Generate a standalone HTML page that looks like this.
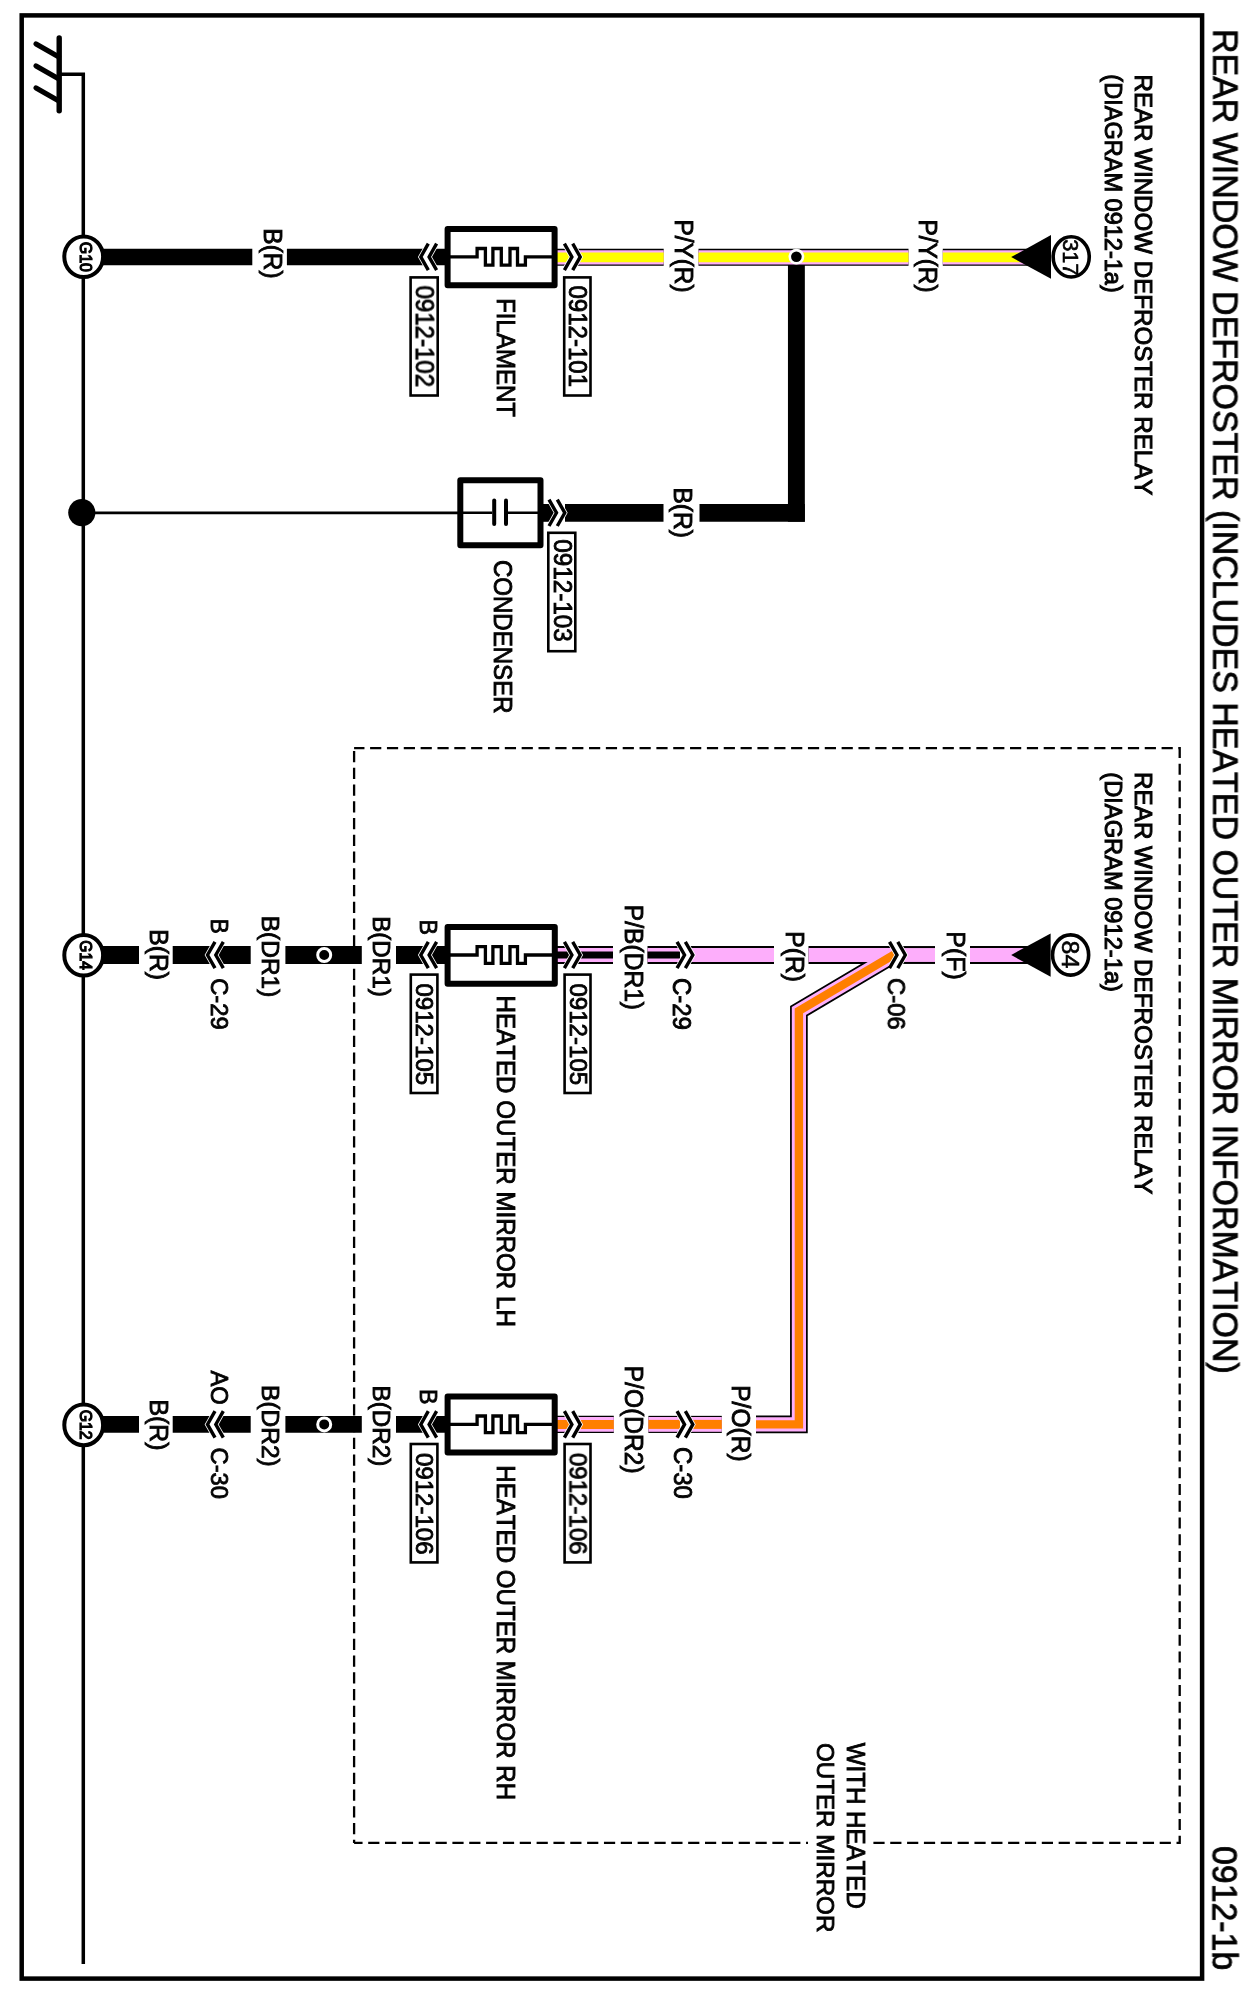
<!DOCTYPE html>
<html><head><meta charset="utf-8"><style>
html,body{margin:0;padding:0;background:#fff;}
svg{display:block;}
text{font-family:"Liberation Sans",sans-serif;font-kerning:none;fill:#000;}

</style></head><body>
<svg width="1246" height="1998" viewBox="0 0 1246 1998">
<rect x="0" y="0" width="1246" height="1998" fill="#fff"/>
<defs><clipPath id="cdiag"><rect x="0" y="0" width="895.5" height="1998"/></clipPath></defs>
<rect x="21.7" y="15.4" width="1180.4" height="1963.2" fill="none" stroke="#000" stroke-width="4.5"/>
<line x1="354.1" y1="748.1" x2="1179.7" y2="748.1" stroke="#000" stroke-width="2.3" stroke-linecap="butt" stroke-dasharray="11.2 5.64" stroke-dashoffset="0.84"/>
<line x1="354.1" y1="748.1" x2="354.1" y2="1842.9" stroke="#000" stroke-width="2.3" stroke-linecap="butt" stroke-dasharray="11.2 5.55" stroke-dashoffset="-3"/>
<line x1="354.1" y1="1842.9" x2="1179.7" y2="1842.9" stroke="#000" stroke-width="2.3" stroke-linecap="butt" stroke-dasharray="11.2 5.64" stroke-dashoffset="2.74"/>
<line x1="1179.7" y1="746.9" x2="1179.7" y2="1844.1" stroke="#000" stroke-width="2.3" stroke-linecap="butt" stroke-dasharray="11.2 5.55" stroke-dashoffset="0"/>
<line x1="59.2" y1="37.9" x2="59.2" y2="110.7" stroke="#000" stroke-width="5.4" stroke-linecap="round" />
<line x1="36.1" y1="43.9" x2="58.5" y2="56.7" stroke="#000" stroke-width="5.2" stroke-linecap="round" />
<line x1="36.1" y1="65.9" x2="58.5" y2="78.7" stroke="#000" stroke-width="5.2" stroke-linecap="round" />
<line x1="36.1" y1="87.9" x2="58.5" y2="100.7" stroke="#000" stroke-width="5.2" stroke-linecap="round" />
<polyline points="59.20,74.30 83.30,74.30 83.30,1964.00" fill="none" stroke="#000" stroke-width="3.5" stroke-linejoin="miter" stroke-linecap="butt" />
<line x1="83.3" y1="512.8" x2="460" y2="512.8" stroke="#000" stroke-width="2.8" stroke-linecap="butt" />
<circle cx="81.8" cy="512.6" r="13.6" fill="#000"/>
<polyline points="100.00,256.90 252.30,256.90" fill="none" stroke="#000" stroke-width="16.5" stroke-linejoin="miter" stroke-linecap="butt" />
<polyline points="286.90,256.90 446.00,256.90" fill="none" stroke="#000" stroke-width="16.5" stroke-linejoin="miter" stroke-linecap="butt" />
<polyline points="556.00,257.35 663.70,257.35" fill="none" stroke="#000" stroke-width="17.0" stroke-linejoin="miter" stroke-linecap="butt" />
<polyline points="698.50,257.35 908.50,257.35" fill="none" stroke="#000" stroke-width="17.0" stroke-linejoin="miter" stroke-linecap="butt" />
<polyline points="942.80,257.35 1030.00,257.35" fill="none" stroke="#000" stroke-width="17.0" stroke-linejoin="miter" stroke-linecap="butt" />
<polyline points="565.00,512.90 663.50,512.90" fill="none" stroke="#000" stroke-width="17.8" stroke-linejoin="miter" stroke-linecap="butt" />
<polyline points="699.50,512.90 804.85,512.90" fill="none" stroke="#000" stroke-width="17.8" stroke-linejoin="miter" stroke-linecap="butt" />
<polyline points="796.40,521.80 796.40,256.90" fill="none" stroke="#000" stroke-width="16.9" stroke-linejoin="miter" stroke-linecap="butt" />
<polyline points="541.00,512.90 560.00,512.90" fill="none" stroke="#000" stroke-width="17.8" stroke-linejoin="miter" stroke-linecap="butt" />
<polyline points="100.00,955.00 139.00,955.00" fill="none" stroke="#000" stroke-width="17.8" stroke-linejoin="miter" stroke-linecap="butt" />
<polyline points="172.70,955.00 250.70,955.00" fill="none" stroke="#000" stroke-width="17.8" stroke-linejoin="miter" stroke-linecap="butt" />
<polyline points="285.40,955.00 361.80,955.00" fill="none" stroke="#000" stroke-width="17.8" stroke-linejoin="miter" stroke-linecap="butt" />
<polyline points="396.00,955.00 446.00,955.00" fill="none" stroke="#000" stroke-width="17.8" stroke-linejoin="miter" stroke-linecap="butt" />
<polyline points="100.00,1424.40 139.00,1424.40" fill="none" stroke="#000" stroke-width="16.8" stroke-linejoin="miter" stroke-linecap="butt" />
<polyline points="172.70,1424.40 250.70,1424.40" fill="none" stroke="#000" stroke-width="16.8" stroke-linejoin="miter" stroke-linecap="butt" />
<polyline points="285.40,1424.40 361.80,1424.40" fill="none" stroke="#000" stroke-width="16.8" stroke-linejoin="miter" stroke-linecap="butt" />
<polyline points="396.00,1424.40 446.00,1424.40" fill="none" stroke="#000" stroke-width="16.8" stroke-linejoin="miter" stroke-linecap="butt" />
<polyline points="556.00,955.00 613.00,955.00" fill="none" stroke="#000" stroke-width="17.9" stroke-linejoin="miter" stroke-linecap="butt" />
<polyline points="647.50,955.00 680.00,955.00" fill="none" stroke="#000" stroke-width="17.9" stroke-linejoin="miter" stroke-linecap="butt" />
<polyline points="690.00,955.00 774.00,955.00" fill="none" stroke="#000" stroke-width="17.9" stroke-linejoin="miter" stroke-linecap="butt" />
<polyline points="808.50,955.00 893.00,955.00" fill="none" stroke="#000" stroke-width="17.9" stroke-linejoin="miter" stroke-linecap="butt" />
<polyline points="903.00,955.00 935.00,955.00" fill="none" stroke="#000" stroke-width="17.9" stroke-linejoin="miter" stroke-linecap="butt" />
<polyline points="970.00,955.00 1030.00,955.00" fill="none" stroke="#000" stroke-width="17.9" stroke-linejoin="miter" stroke-linecap="butt" />
<polyline points="898.00,952.25 798.90,1011.00 798.90,1424.40 756.00,1424.40" fill="none" stroke="#000" stroke-width="17.7" stroke-linejoin="miter" stroke-linecap="butt" clip-path="url(#cdiag)"/>
<polyline points="721.80,1424.40 690.00,1424.40" fill="none" stroke="#000" stroke-width="17.1" stroke-linejoin="miter" stroke-linecap="butt" />
<polyline points="556.00,1424.40 613.80,1424.40" fill="none" stroke="#000" stroke-width="17.1" stroke-linejoin="miter" stroke-linecap="butt" />
<polyline points="648.40,1424.40 680.00,1424.40" fill="none" stroke="#000" stroke-width="17.1" stroke-linejoin="miter" stroke-linecap="butt" />
<polyline points="556.00,257.35 663.70,257.35" fill="none" stroke="#fdaefb" stroke-width="14.3" stroke-linejoin="miter" stroke-linecap="butt" />
<polyline points="698.50,257.35 908.50,257.35" fill="none" stroke="#fdaefb" stroke-width="14.3" stroke-linejoin="miter" stroke-linecap="butt" />
<polyline points="942.80,257.35 1030.00,257.35" fill="none" stroke="#fdaefb" stroke-width="14.3" stroke-linejoin="miter" stroke-linecap="butt" />
<polyline points="556.00,955.00 613.00,955.00" fill="none" stroke="#fdaefb" stroke-width="13.9" stroke-linejoin="miter" stroke-linecap="butt" />
<polyline points="647.50,955.00 680.00,955.00" fill="none" stroke="#fdaefb" stroke-width="13.9" stroke-linejoin="miter" stroke-linecap="butt" />
<polyline points="690.00,955.00 774.00,955.00" fill="none" stroke="#fdaefb" stroke-width="13.9" stroke-linejoin="miter" stroke-linecap="butt" />
<polyline points="808.50,955.00 893.00,955.00" fill="none" stroke="#fdaefb" stroke-width="13.9" stroke-linejoin="miter" stroke-linecap="butt" />
<polyline points="903.00,955.00 935.00,955.00" fill="none" stroke="#fdaefb" stroke-width="13.9" stroke-linejoin="miter" stroke-linecap="butt" />
<polyline points="970.00,955.00 1030.00,955.00" fill="none" stroke="#fdaefb" stroke-width="13.9" stroke-linejoin="miter" stroke-linecap="butt" />
<polyline points="898.00,952.25 798.90,1011.00 798.90,1424.40 756.00,1424.40" fill="none" stroke="#fdaefb" stroke-width="14.2" stroke-linejoin="miter" stroke-linecap="butt" clip-path="url(#cdiag)"/>
<polyline points="721.80,1424.40 690.00,1424.40" fill="none" stroke="#fdaefb" stroke-width="14.8" stroke-linejoin="miter" stroke-linecap="butt" />
<polyline points="556.00,1424.40 613.80,1424.40" fill="none" stroke="#fdaefb" stroke-width="14.8" stroke-linejoin="miter" stroke-linecap="butt" />
<polyline points="648.40,1424.40 680.00,1424.40" fill="none" stroke="#fdaefb" stroke-width="14.8" stroke-linejoin="miter" stroke-linecap="butt" />
<polyline points="556.00,257.35 663.70,257.35" fill="none" stroke="#ffff00" stroke-width="9.75" stroke-linejoin="miter" stroke-linecap="butt" />
<polyline points="698.50,257.35 908.50,257.35" fill="none" stroke="#ffff00" stroke-width="9.75" stroke-linejoin="miter" stroke-linecap="butt" />
<polyline points="942.80,257.35 1030.00,257.35" fill="none" stroke="#ffff00" stroke-width="9.75" stroke-linejoin="miter" stroke-linecap="butt" />
<polyline points="556.00,955.00 613.00,955.00" fill="none" stroke="#000" stroke-width="7.2" stroke-linejoin="miter" stroke-linecap="butt" />
<polyline points="647.50,955.00 680.00,955.00" fill="none" stroke="#000" stroke-width="7.2" stroke-linejoin="miter" stroke-linecap="butt" />
<polyline points="898.00,952.25 798.90,1011.00 798.90,1424.40 756.00,1424.40" fill="none" stroke="#ff7f00" stroke-width="8.4" stroke-linejoin="miter" stroke-linecap="butt" clip-path="url(#cdiag)"/>
<polyline points="721.80,1424.40 690.00,1424.40" fill="none" stroke="#ff7f00" stroke-width="9.0" stroke-linejoin="miter" stroke-linecap="butt" />
<polyline points="556.00,1424.40 613.80,1424.40" fill="none" stroke="#ff7f00" stroke-width="9.0" stroke-linejoin="miter" stroke-linecap="butt" />
<polyline points="648.40,1424.40 680.00,1424.40" fill="none" stroke="#ff7f00" stroke-width="9.0" stroke-linejoin="miter" stroke-linecap="butt" />
<circle cx="796.4" cy="256.7" r="7.9" fill="#fff"/><circle cx="796.4" cy="256.7" r="5.3" fill="#000"/>
<circle cx="324.2" cy="955.0" r="6.5" fill="none" stroke="#fff" stroke-width="3"/>
<circle cx="324.2" cy="1424.4" r="6.5" fill="none" stroke="#fff" stroke-width="3"/>
<rect x="447.60" y="229.00" width="107.00" height="56.30" rx="0" fill="#fff" stroke="#000" stroke-width="6" stroke-linejoin="round"/>
<polyline points="447.00,256.90 477.10,256.90 477.10,248.50 485.40,248.50 485.40,265.20 492.90,265.20 492.90,248.50 501.30,248.50 501.30,265.20 510.00,265.20 510.00,248.50 517.50,248.50 517.50,265.20 525.40,265.20 525.40,256.90 555.00,256.90" fill="none" stroke="#000" stroke-width="3.3" stroke-linejoin="miter" stroke-linecap="butt" />
<rect x="447.60" y="927.00" width="107.20" height="56.80" rx="0" fill="#fff" stroke="#000" stroke-width="6" stroke-linejoin="round"/>
<polyline points="447.00,955.00 477.10,955.00 477.10,946.60 485.40,946.60 485.40,963.30 492.90,963.30 492.90,946.60 501.30,946.60 501.30,963.30 510.00,963.30 510.00,946.60 517.50,946.60 517.50,963.30 525.40,963.30 525.40,955.00 555.00,955.00" fill="none" stroke="#000" stroke-width="3.3" stroke-linejoin="miter" stroke-linecap="butt" />
<rect x="447.60" y="1396.40" width="107.10" height="56.20" rx="0" fill="#fff" stroke="#000" stroke-width="6" stroke-linejoin="round"/>
<polyline points="447.00,1424.40 477.10,1424.40 477.10,1416.00 485.40,1416.00 485.40,1432.70 492.90,1432.70 492.90,1416.00 501.30,1416.00 501.30,1432.70 510.00,1432.70 510.00,1416.00 517.50,1416.00 517.50,1432.70 525.40,1432.70 525.40,1424.40 555.00,1424.40" fill="none" stroke="#000" stroke-width="3.3" stroke-linejoin="miter" stroke-linecap="butt" />
<rect x="460.30" y="480.30" width="80.20" height="65.00" rx="0" fill="#fff" stroke="#000" stroke-width="6" stroke-linejoin="round"/>
<line x1="460" y1="512.7" x2="492.2" y2="512.7" stroke="#000" stroke-width="2.6" stroke-linecap="butt" />
<line x1="508" y1="512.7" x2="541" y2="512.7" stroke="#000" stroke-width="2.6" stroke-linecap="butt" />
<line x1="494.2" y1="500.5" x2="494.2" y2="524.0" stroke="#000" stroke-width="4.0" stroke-linecap="round" />
<line x1="506.0" y1="500.5" x2="506.0" y2="524.0" stroke="#000" stroke-width="4.0" stroke-linecap="round" />
<polyline points="432.45,243.70 424.95,256.90 432.45,270.10" fill="none" stroke="#fff" stroke-width="12.216489426359976" stroke-linejoin="miter" stroke-linecap="butt" stroke-miterlimit="20"/>
<polyline points="428.30,243.70 420.80,256.90 428.30,270.10" fill="none" stroke="#000" stroke-width="3.4" stroke-linejoin="miter" stroke-linecap="butt" stroke-miterlimit="20"/>
<polyline points="436.60,243.70 429.10,256.90 436.60,270.10" fill="none" stroke="#000" stroke-width="3.4" stroke-linejoin="miter" stroke-linecap="butt" stroke-miterlimit="20"/>
<polyline points="568.55,243.70 576.05,256.90 568.55,270.10" fill="none" stroke="#fff" stroke-width="12.216489426359976" stroke-linejoin="miter" stroke-linecap="butt" stroke-miterlimit="20"/>
<polyline points="564.40,243.70 571.90,256.90 564.40,270.10" fill="none" stroke="#000" stroke-width="3.4" stroke-linejoin="miter" stroke-linecap="butt" stroke-miterlimit="20"/>
<polyline points="572.70,243.70 580.20,256.90 572.70,270.10" fill="none" stroke="#000" stroke-width="3.4" stroke-linejoin="miter" stroke-linecap="butt" stroke-miterlimit="20"/>
<polyline points="553.15,499.60 560.65,512.80 553.15,526.00" fill="none" stroke="#fff" stroke-width="12.216489426359976" stroke-linejoin="miter" stroke-linecap="butt" stroke-miterlimit="20"/>
<polyline points="549.00,499.60 556.50,512.80 549.00,526.00" fill="none" stroke="#000" stroke-width="3.4" stroke-linejoin="miter" stroke-linecap="butt" stroke-miterlimit="20"/>
<polyline points="557.30,499.60 564.80,512.80 557.30,526.00" fill="none" stroke="#000" stroke-width="3.4" stroke-linejoin="miter" stroke-linecap="butt" stroke-miterlimit="20"/>
<polyline points="219.15,941.80 211.65,955.00 219.15,968.20" fill="none" stroke="#fff" stroke-width="12.216489426359976" stroke-linejoin="miter" stroke-linecap="butt" stroke-miterlimit="20"/>
<polyline points="215.00,941.80 207.50,955.00 215.00,968.20" fill="none" stroke="#000" stroke-width="3.4" stroke-linejoin="miter" stroke-linecap="butt" stroke-miterlimit="20"/>
<polyline points="223.30,941.80 215.80,955.00 223.30,968.20" fill="none" stroke="#000" stroke-width="3.4" stroke-linejoin="miter" stroke-linecap="butt" stroke-miterlimit="20"/>
<polyline points="432.45,941.80 424.95,955.00 432.45,968.20" fill="none" stroke="#fff" stroke-width="12.216489426359976" stroke-linejoin="miter" stroke-linecap="butt" stroke-miterlimit="20"/>
<polyline points="428.30,941.80 420.80,955.00 428.30,968.20" fill="none" stroke="#000" stroke-width="3.4" stroke-linejoin="miter" stroke-linecap="butt" stroke-miterlimit="20"/>
<polyline points="436.60,941.80 429.10,955.00 436.60,968.20" fill="none" stroke="#000" stroke-width="3.4" stroke-linejoin="miter" stroke-linecap="butt" stroke-miterlimit="20"/>
<polyline points="568.55,941.80 576.05,955.00 568.55,968.20" fill="none" stroke="#fff" stroke-width="12.216489426359976" stroke-linejoin="miter" stroke-linecap="butt" stroke-miterlimit="20"/>
<polyline points="564.40,941.80 571.90,955.00 564.40,968.20" fill="none" stroke="#000" stroke-width="3.4" stroke-linejoin="miter" stroke-linecap="butt" stroke-miterlimit="20"/>
<polyline points="572.70,941.80 580.20,955.00 572.70,968.20" fill="none" stroke="#000" stroke-width="3.4" stroke-linejoin="miter" stroke-linecap="butt" stroke-miterlimit="20"/>
<polyline points="681.20,941.80 688.70,955.00 681.20,968.20" fill="none" stroke="#fff" stroke-width="12.216489426359976" stroke-linejoin="miter" stroke-linecap="butt" stroke-miterlimit="20"/>
<polyline points="677.05,941.80 684.55,955.00 677.05,968.20" fill="none" stroke="#000" stroke-width="3.4" stroke-linejoin="miter" stroke-linecap="butt" stroke-miterlimit="20"/>
<polyline points="685.35,941.80 692.85,955.00 685.35,968.20" fill="none" stroke="#000" stroke-width="3.4" stroke-linejoin="miter" stroke-linecap="butt" stroke-miterlimit="20"/>
<polyline points="219.15,1411.20 211.65,1424.40 219.15,1437.60" fill="none" stroke="#fff" stroke-width="12.216489426359976" stroke-linejoin="miter" stroke-linecap="butt" stroke-miterlimit="20"/>
<polyline points="215.00,1411.20 207.50,1424.40 215.00,1437.60" fill="none" stroke="#000" stroke-width="3.4" stroke-linejoin="miter" stroke-linecap="butt" stroke-miterlimit="20"/>
<polyline points="223.30,1411.20 215.80,1424.40 223.30,1437.60" fill="none" stroke="#000" stroke-width="3.4" stroke-linejoin="miter" stroke-linecap="butt" stroke-miterlimit="20"/>
<polyline points="432.45,1411.20 424.95,1424.40 432.45,1437.60" fill="none" stroke="#fff" stroke-width="12.216489426359976" stroke-linejoin="miter" stroke-linecap="butt" stroke-miterlimit="20"/>
<polyline points="428.30,1411.20 420.80,1424.40 428.30,1437.60" fill="none" stroke="#000" stroke-width="3.4" stroke-linejoin="miter" stroke-linecap="butt" stroke-miterlimit="20"/>
<polyline points="436.60,1411.20 429.10,1424.40 436.60,1437.60" fill="none" stroke="#000" stroke-width="3.4" stroke-linejoin="miter" stroke-linecap="butt" stroke-miterlimit="20"/>
<polyline points="568.55,1411.20 576.05,1424.40 568.55,1437.60" fill="none" stroke="#fff" stroke-width="12.216489426359976" stroke-linejoin="miter" stroke-linecap="butt" stroke-miterlimit="20"/>
<polyline points="564.40,1411.20 571.90,1424.40 564.40,1437.60" fill="none" stroke="#000" stroke-width="3.4" stroke-linejoin="miter" stroke-linecap="butt" stroke-miterlimit="20"/>
<polyline points="572.70,1411.20 580.20,1424.40 572.70,1437.60" fill="none" stroke="#000" stroke-width="3.4" stroke-linejoin="miter" stroke-linecap="butt" stroke-miterlimit="20"/>
<polyline points="681.20,1411.20 688.70,1424.40 681.20,1437.60" fill="none" stroke="#fff" stroke-width="12.216489426359976" stroke-linejoin="miter" stroke-linecap="butt" stroke-miterlimit="20"/>
<polyline points="677.05,1411.20 684.55,1424.40 677.05,1437.60" fill="none" stroke="#000" stroke-width="3.4" stroke-linejoin="miter" stroke-linecap="butt" stroke-miterlimit="20"/>
<polyline points="685.35,1411.20 692.85,1424.40 685.35,1437.60" fill="none" stroke="#000" stroke-width="3.4" stroke-linejoin="miter" stroke-linecap="butt" stroke-miterlimit="20"/>
<polyline points="893.65,941.80 901.15,955.00 893.65,968.20" fill="none" stroke="#fff" stroke-width="12.216489426359976" stroke-linejoin="miter" stroke-linecap="butt" stroke-miterlimit="20"/>
<polyline points="889.50,941.80 897.00,955.00 889.50,968.20" fill="none" stroke="#000" stroke-width="3.4" stroke-linejoin="miter" stroke-linecap="butt" stroke-miterlimit="20"/>
<polyline points="897.80,941.80 905.30,955.00 897.80,968.20" fill="none" stroke="#000" stroke-width="3.4" stroke-linejoin="miter" stroke-linecap="butt" stroke-miterlimit="20"/>
<polygon points="1011.2,257.1 1051,235 1051,278.8" fill="#000"/>
<ellipse cx="1071.2" cy="256.9" rx="18.05" ry="20.1" fill="#fff" stroke="#000" stroke-width="3.6"/>
<polygon points="1011.2,955 1050.6,933.4 1050.6,976.7" fill="#000"/>
<ellipse cx="1070.6" cy="955" rx="18.05" ry="20.1" fill="#fff" stroke="#000" stroke-width="3.6"/>
<ellipse cx="83.7" cy="256.8" rx="19.4" ry="20.3" fill="#fff" stroke="#000" stroke-width="4"/>
<ellipse cx="83.7" cy="955.2" rx="19.4" ry="20.3" fill="#fff" stroke="#000" stroke-width="4"/>
<ellipse cx="83.7" cy="1424.9" rx="19.4" ry="20.3" fill="#fff" stroke="#000" stroke-width="4"/>
<rect x="410.60" y="277.40" width="27.10" height="118.10" fill="#fff" stroke="#000" stroke-width="2.6"/>
<rect x="564.20" y="277.40" width="26.30" height="118.10" fill="#fff" stroke="#000" stroke-width="2.6"/>
<rect x="548.30" y="532.80" width="27.00" height="118.40" fill="#fff" stroke="#000" stroke-width="2.6"/>
<rect x="410.80" y="974.60" width="26.60" height="118.40" fill="#fff" stroke="#000" stroke-width="2.6"/>
<rect x="564.60" y="974.60" width="25.90" height="118.40" fill="#fff" stroke="#000" stroke-width="2.6"/>
<rect x="410.80" y="1444.00" width="26.60" height="118.40" fill="#fff" stroke="#000" stroke-width="2.6"/>
<rect x="564.60" y="1444.00" width="25.90" height="118.40" fill="#fff" stroke="#000" stroke-width="2.6"/>
<rect x="808" y="1835" width="62" height="16" fill="#fff"/>
<g opacity="0.995">
<text transform="translate(415.89,285.48) rotate(90) scale(0.9247,1)" font-size="26.02" stroke="#000" stroke-width="0.88">0912-102</text>
<text transform="translate(569.19,285.49) rotate(90) scale(0.9244,1)" font-size="26.02" stroke="#000" stroke-width="0.88">0912-101</text>
<text transform="translate(553.59,539.28) rotate(90) scale(0.9567,1)" font-size="25.32" stroke="#000" stroke-width="0.87">0912-103</text>
<text transform="translate(416.18,983.48) rotate(90) scale(0.9891,1)" font-size="24.33" stroke="#000" stroke-width="0.85">0912-105</text>
<text transform="translate(569.68,983.48) rotate(90) scale(0.9778,1)" font-size="24.61" stroke="#000" stroke-width="0.86">0912-105</text>
<text transform="translate(416.18,1452.88) rotate(90) scale(0.9896,1)" font-size="24.33" stroke="#000" stroke-width="0.85">0912-106</text>
<text transform="translate(569.68,1452.88) rotate(90) scale(0.9782,1)" font-size="24.61" stroke="#000" stroke-width="0.86">0912-106</text>
<text transform="translate(1213.40,29.01) rotate(90) scale(0.9739,1)" font-size="34.88" stroke="#000" stroke-width="0.81">REAR WINDOW DEFROSTER (INCLUDES HEATED OUTER MIRROR INFORMATION)</text>
<text transform="translate(1212.66,1845.98) rotate(90) scale(0.9604,1)" font-size="35.28" stroke="#000" stroke-width="0.82">0912-1b</text>
<text transform="translate(1134.50,74.52) rotate(90) scale(0.9769,1)" font-size="24.71" stroke="#000" stroke-width="1.01">REAR WINDOW DEFROSTER RELAY</text>
<text transform="translate(1105.00,74.34) rotate(90) scale(0.9529,1)" font-size="24.71" stroke="#000" stroke-width="1.02">(DIAGRAM 0912-1a)</text>
<text transform="translate(1134.50,772.11) rotate(90) scale(0.9799,1)" font-size="24.71" stroke="#000" stroke-width="1.01">REAR WINDOW DEFROSTER RELAY</text>
<text transform="translate(1105.00,772.33) rotate(90) scale(0.9578,1)" font-size="24.71" stroke="#000" stroke-width="1.02">(DIAGRAM 0912-1a)</text>
<text transform="translate(1062.73,239.27) rotate(90) scale(0.9525,1)" font-size="22.86" stroke="#000" stroke-width="0.61">317</text>
<text transform="translate(1061.54,940.62) rotate(90) scale(1.0326,1)" font-size="24.13" stroke="#000" stroke-width="0.59">84</text>
<text transform="translate(919.02,219.42) rotate(90) scale(0.9615,1)" font-size="25.36" stroke="#000" stroke-width="0.87">P/Y(R)</text>
<text transform="translate(675.02,219.42) rotate(90) scale(0.9615,1)" font-size="25.36" stroke="#000" stroke-width="0.87">P/Y(R)</text>
<text transform="translate(496.73,298.15) rotate(90) scale(0.9163,1)" font-size="26.24" stroke="#000" stroke-width="0.89">FILAMENT</text>
<text transform="translate(264.03,228.31) rotate(90) scale(0.9665,1)" font-size="25.36" stroke="#000" stroke-width="0.86">B(R)</text>
<text transform="translate(80.18,241.80) rotate(90) scale(0.9624,1)" font-size="16.62" stroke="#000" stroke-width="1.22">G10</text>
<text transform="translate(674.42,487.40) rotate(90) scale(0.9727,1)" font-size="25.36" stroke="#000" stroke-width="0.86">B(R)</text>
<text transform="translate(494.43,559.90) rotate(90) scale(0.9225,1)" font-size="26.09" stroke="#000" stroke-width="0.88">CONDENSER</text>
<text transform="translate(947.02,931.28) rotate(90) scale(0.9791,1)" font-size="25.51" stroke="#000" stroke-width="0.86">P(F)</text>
<text transform="translate(887.88,977.91) rotate(90) scale(0.9677,1)" font-size="24.75" stroke="#000" stroke-width="0.86">C-06</text>
<text transform="translate(785.62,931.30) rotate(90) scale(0.9637,1)" font-size="25.65" stroke="#000" stroke-width="0.87">P(R)</text>
<text transform="translate(624.72,904.81) rotate(90) scale(0.9329,1)" font-size="26.38" stroke="#000" stroke-width="0.88">P/B(DR1)</text>
<text transform="translate(673.08,977.91) rotate(90) scale(0.9638,1)" font-size="24.89" stroke="#000" stroke-width="0.87">C-29</text>
<text transform="translate(497.32,995.54) rotate(90) scale(0.9691,1)" font-size="24.93" stroke="#000" stroke-width="0.86">HEATED OUTER MIRROR LH</text>
<text transform="translate(419.62,919.62) rotate(90) scale(1.0009,1)" font-size="23.18" stroke="#000" stroke-width="0.85">B</text>
<text transform="translate(373.03,916.14) rotate(90) scale(1.0008,1)" font-size="24.20" stroke="#000" stroke-width="0.85">B(DR1)</text>
<text transform="translate(262.43,915.72) rotate(90) scale(1.0005,1)" font-size="24.49" stroke="#000" stroke-width="0.85">B(DR1)</text>
<text transform="translate(210.93,918.78) rotate(90) scale(0.9278,1)" font-size="24.20" stroke="#000" stroke-width="0.88">B</text>
<text transform="translate(210.98,978.22) rotate(90) scale(0.9650,1)" font-size="24.61" stroke="#000" stroke-width="0.87">C-29</text>
<text transform="translate(149.93,929.19) rotate(90) scale(0.9768,1)" font-size="25.36" stroke="#000" stroke-width="0.86">B(R)</text>
<text transform="translate(80.18,940.31) rotate(90) scale(0.9406,1)" font-size="16.62" stroke="#000" stroke-width="1.24">G14</text>
<text transform="translate(732.42,1385.21) rotate(90) scale(0.9585,1)" font-size="25.65" stroke="#000" stroke-width="0.87">P/O(R)</text>
<text transform="translate(625.42,1365.81) rotate(90) scale(0.9636,1)" font-size="25.51" stroke="#000" stroke-width="0.87">P/O(DR2)</text>
<text transform="translate(673.58,1446.90) rotate(90) scale(0.9657,1)" font-size="24.89" stroke="#000" stroke-width="0.86">C-30</text>
<text transform="translate(497.32,1465.35) rotate(90) scale(0.9620,1)" font-size="25.07" stroke="#000" stroke-width="0.87">HEATED OUTER MIRROR RH</text>
<text transform="translate(419.62,1389.02) rotate(90) scale(1.0009,1)" font-size="23.18" stroke="#000" stroke-width="0.85">B</text>
<text transform="translate(373.03,1385.54) rotate(90) scale(1.0008,1)" font-size="24.20" stroke="#000" stroke-width="0.85">B(DR2)</text>
<text transform="translate(262.43,1385.12) rotate(90) scale(1.0005,1)" font-size="24.49" stroke="#000" stroke-width="0.85">B(DR2)</text>
<text transform="translate(210.93,1370.38) rotate(90) scale(0.9819,1)" font-size="24.20" stroke="#000" stroke-width="0.86">AO</text>
<text transform="translate(210.98,1447.62) rotate(90) scale(0.9612,1)" font-size="24.61" stroke="#000" stroke-width="0.87">C-30</text>
<text transform="translate(149.93,1399.38) rotate(90) scale(0.9810,1)" font-size="25.36" stroke="#000" stroke-width="0.86">B(R)</text>
<text transform="translate(80.18,1409.70) rotate(90) scale(0.9517,1)" font-size="16.62" stroke="#000" stroke-width="1.23">G12</text>
<text transform="translate(846.82,1742.72) rotate(90) scale(0.9459,1)" font-size="25.51" stroke="#000" stroke-width="0.87">WITH HEATED</text>
<text transform="translate(817.42,1742.88) rotate(90) scale(0.9768,1)" font-size="24.78" stroke="#000" stroke-width="0.86">OUTER MIRROR</text>
</g>
</svg>
</body></html>
